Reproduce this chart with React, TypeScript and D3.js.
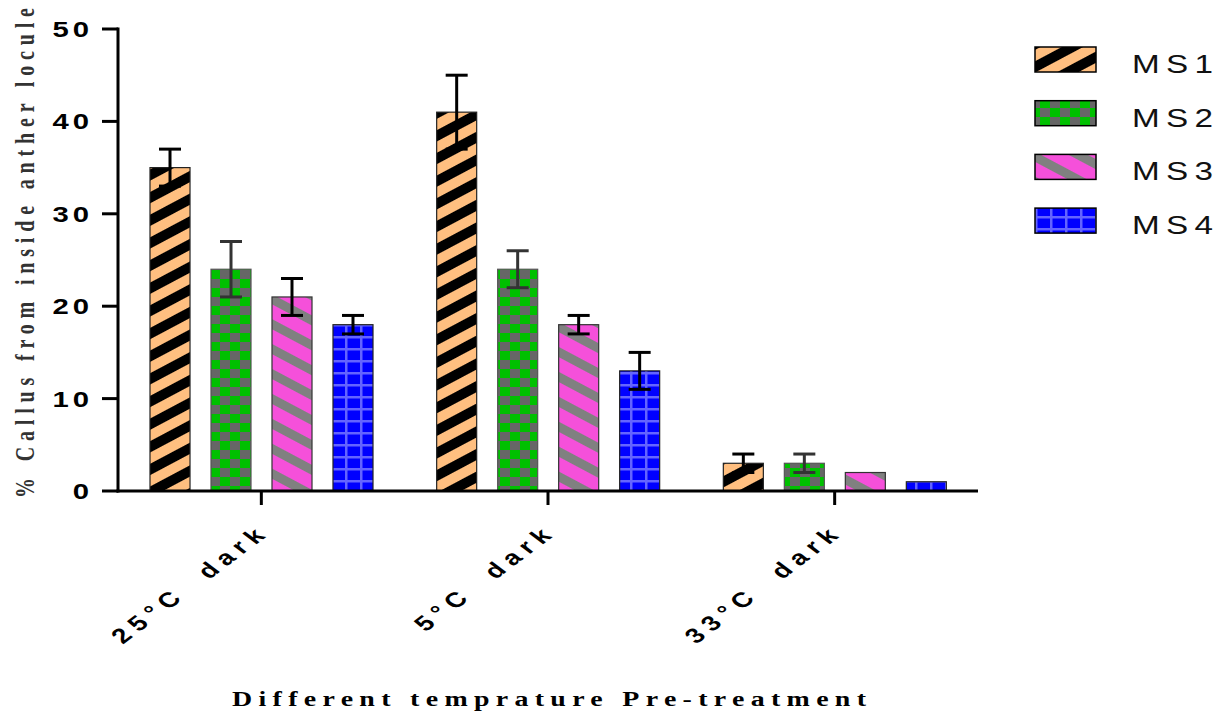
import React from 'react'
import * as d3 from 'd3'

// values
const categories = ['25°C  dark', '5°C  dark', '33°C  dark']
const seriesNames = ['MS1', 'MS2', 'MS3', 'MS4']
const ms1Values = [35, 41, 3]
const ms1Errors = [2, 4, 1]
const ms2Values = [24, 24, 3]
const ms2Errors = [3, 2, 1]
const ms3Values = [21, 18, 2]
const ms3Errors = [2, 1, 0]
const ms4Values = [18, 13, 1]
const ms4Errors = [1, 2, 0]
const yTicks = [0, 10, 20, 30, 40, 50]

const seriesValues = [ms1Values, ms2Values, ms3Values, ms4Values]
const seriesErrors = [ms1Errors, ms2Errors, ms3Errors, ms4Errors]
const patternIds = ['pat-ms1', 'pat-ms2', 'pat-ms3', 'pat-ms4']
const barStroke = ['#222', '#555', '#333', '#222']
const errColor = ['#000', '#333', '#000', '#000']

const W = 1222
const H = 715
const SX = 1.33 // the picture is stretched sideways, text too
const left = 118
const right = 978
const top = 29
const bottom = 491

const App = () => {
  const x0 = d3.scaleBand<string>().domain(categories).range([left, right])
  const x1 = d3.scaleBand<string>().domain(seriesNames).range([32, 255]).paddingInner(0.344)
  const y = d3.scaleLinear().domain([0, 50]).range([bottom, top])

  const bars = categories.flatMap((c, ci) =>
    seriesNames.map((s, si) => ({
      cat: c,
      si,
      x: (x0(c) as number) + (x1(s) as number),
      v: seriesValues[si][ci],
      e: seriesErrors[si][ci],
    }))
  )
  const bw = x1.bandwidth()
  const capW = 22

  return (
    <svg width={W} height={H} style={{ position: 'absolute', left: 0, top: 0, background: '#fff' }}>
      <defs>
        <pattern id="pat-ms1" patternUnits="userSpaceOnUse" width={20} height={20} patternTransform="rotate(-28)">
          <rect width={20} height={20} fill="#FFBF80" />
          <rect width={20} height={10} fill="#000" />
        </pattern>
        <pattern id="pat-ms2" patternUnits="userSpaceOnUse" width={20} height={18}>
          <rect width={20} height={18} fill="#00C000" />
          <rect width={10} height={9} fill="#666" />
          <rect x={10} y={9} width={10} height={9} fill="#666" />
        </pattern>
        <pattern id="pat-ms3" patternUnits="userSpaceOnUse" width={22} height={22} patternTransform="rotate(28)">
          <rect width={22} height={22} fill="#F550DA" />
          <rect width={22} height={9} fill="#808080" />
        </pattern>
        <pattern id="pat-ms4" patternUnits="userSpaceOnUse" width={15} height={12}>
          <rect width={15} height={12} fill="#0000FF" />
          <rect width={2.5} height={12} fill="#6464FF" />
          <rect width={15} height={2.5} fill="#6464FF" />
        </pattern>
      </defs>

      {/* bars */}
      {bars.map((b, i) => (
        <rect
          key={'b' + i}
          x={b.x}
          y={y(b.v)}
          width={bw}
          height={bottom - y(b.v)}
          fill={`url(#${patternIds[b.si]})`}
          stroke={barStroke[b.si]}
          strokeWidth={1.2}
        />
      ))}

      {/* error bars */}
      {bars.filter(b => b.e > 0).map((b, i) => {
        const cx = b.x + bw / 2
        return (
          <g key={'e' + i} stroke={errColor[b.si]} strokeWidth={3} fill="none">
            <line x1={cx} x2={cx} y1={y(b.v + b.e)} y2={y(b.v - b.e)} />
            <line x1={cx - capW / 2} x2={cx + capW / 2} y1={y(b.v + b.e)} y2={y(b.v + b.e)} />
            <line x1={cx - capW / 2} x2={cx + capW / 2} y1={y(b.v - b.e)} y2={y(b.v - b.e)} />
          </g>
        )
      })}

      {/* y axis */}
      <line x1={left} x2={left} y1={top - 1.5} y2={bottom + 1.5} stroke="#000" strokeWidth={3} />
      {yTicks.map(t => (
        <g key={'yt' + t}>
          <line x1={left - 16} x2={left} y1={y(t)} y2={y(t)} stroke="#000" strokeWidth={3} />
          <text
            transform={`translate(93,${y(t)}) scale(${SX},1)`}
            dy="0.36em"
            textAnchor="end"
            fontFamily="Arial, 'Liberation Sans', sans-serif"
            fontWeight="bold"
            fontSize={22}
            letterSpacing={3}
            fill="#000"
          >
            {t}
          </text>
        </g>
      ))}

      {/* x axis */}
      <line x1={left - 1.5} x2={right} y1={bottom} y2={bottom} stroke="#000" strokeWidth={3} />
      {categories.map(c => {
        const cx = (x0(c) as number) + x0.bandwidth() / 2
        return (
          <g key={'xt' + c}>
            <line x1={cx} x2={cx} y1={bottom} y2={bottom + 14} stroke="#000" strokeWidth={3} />
            <text
              transform={`translate(${cx + 10},${bottom + 42}) scale(${SX},1) rotate(-45)`}
              textAnchor="end"
              fontFamily="Arial, 'Liberation Sans', sans-serif"
              fontWeight="bold"
              fontSize={21}
              letterSpacing={5.5}
              fill="#000"
              style={{ whiteSpace: 'pre' }}
            >
              {c}
            </text>
          </g>
        )
      })}

      {/* axis titles */}
      <text
        transform={`translate(34,253) scale(${SX},1) rotate(-90)`}
        textAnchor="middle"
        fontFamily="'Liberation Serif', 'Times New Roman', serif"
        fontWeight="bold"
        fontSize={20}
        textLength={490}
        lengthAdjust="spacing"
        fill="#333"
      >
        % Callus from inside anther locule
      </text>
      <text
        transform={`translate(549,706) scale(${SX},1)`}
        textAnchor="middle"
        fontFamily="'Liberation Serif', 'Times New Roman', serif"
        fontWeight="bold"
        fontSize={21}
        textLength={634 / SX}
        lengthAdjust="spacing"
        fill="#000"
      >
        Different temprature Pre-treatment
      </text>

      {/* legend */}
      {seriesNames.map((s, i) => {
        const ly = 47 + i * 53.7
        return (
          <g key={'lg' + s}>
            <rect x={1035} y={ly} width={61} height={25} fill={`url(#${patternIds[i]})`} stroke="#000" strokeWidth={1.5} />
            <text
              transform={`translate(1132,${ly + 26}) scale(${SX},1)`}
              fontFamily="Arial, 'Liberation Sans', sans-serif"
              fontSize={25}
              textLength={81 / SX}
              lengthAdjust="spacing"
              fill="#111"
            >
              {s}
            </text>
          </g>
        )
      })}
    </svg>
  )
}

export default App
